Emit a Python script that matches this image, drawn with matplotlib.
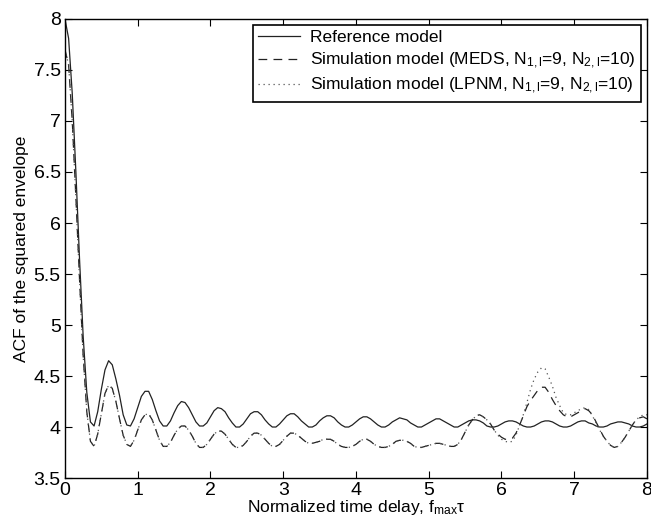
import numpy as np
import matplotlib
matplotlib.use('Agg')
import matplotlib.pyplot as plt

plt.rcParams['font.family'] = ['Liberation Sans', 'DejaVu Sans']
plt.rcParams['mathtext.fontset'] = 'custom'
plt.rcParams['mathtext.rm'] = 'Liberation Sans'
plt.rcParams['mathtext.it'] = 'Liberation Sans'
plt.rcParams['mathtext.default'] = 'regular'

# normalized time delay, step 0.05 from 0 to 8
tau = np.round(np.arange(0, 161) * 0.05, 2)

# reference model
ref_model = [
    8.00, 7.81, 7.27, 6.50, 5.65, 4.89, 4.34, 4.05, 4.01, 4.15,
    4.37, 4.56, 4.65, 4.61, 4.47, 4.31, 4.12, 4.02, 4.01, 4.08,
    4.19, 4.30, 4.35, 4.35, 4.27, 4.16, 4.06, 4.01, 4.01, 4.06,
    4.14, 4.21, 4.25, 4.24, 4.19, 4.12, 4.05, 4.01, 4.01, 4.04,
    4.10, 4.16, 4.19, 4.18, 4.15, 4.09, 4.04, 4.00, 4.00, 4.03,
    4.08, 4.13, 4.15, 4.15, 4.12, 4.07, 4.03, 4.00, 4.00, 4.03,
    4.07, 4.11, 4.13, 4.13, 4.10, 4.06, 4.03, 4.00, 4.00, 4.02,
    4.06, 4.09, 4.11, 4.11, 4.09, 4.05, 4.02, 4.00, 4.00, 4.02,
    4.05, 4.08, 4.10, 4.10, 4.08, 4.05, 4.02, 4.00, 4.00, 4.02,
    4.05, 4.07, 4.09, 4.08, 4.07, 4.04, 4.02, 4.00, 4.00, 4.02,
    4.04, 4.06, 4.08, 4.08, 4.06, 4.04, 4.02, 4.00, 4.00, 4.02,
    4.04, 4.06, 4.07, 4.07, 4.06, 4.04, 4.01, 4.00, 4.00, 4.01,
    4.03, 4.05, 4.06, 4.06, 4.05, 4.03, 4.01, 4.00, 4.00, 4.01,
    4.03, 4.05, 4.06, 4.06, 4.05, 4.03, 4.01, 4.00, 4.00, 4.01,
    4.03, 4.05, 4.06, 4.06, 4.04, 4.03, 4.01, 4.00, 4.00, 4.01,
    4.03, 4.04, 4.05, 4.05, 4.04, 4.03, 4.01, 4.00, 4.00, 4.01,
    4.03,
]

# simulation model, MEDS
meds = [
    7.70, 7.55, 7.00, 6.25, 5.45, 4.70, 4.15, 3.86, 3.81, 3.93,
    4.13, 4.33, 4.41, 4.38, 4.25, 4.08, 3.92, 3.83, 3.81, 3.87,
    3.97, 4.07, 4.12, 4.13, 4.07, 3.97, 3.87, 3.81, 3.81, 3.85,
    3.92, 3.98, 4.01, 4.01, 3.97, 3.91, 3.84, 3.80, 3.80, 3.83,
    3.88, 3.93, 3.96, 3.96, 3.93, 3.88, 3.83, 3.80, 3.80, 3.82,
    3.86, 3.91, 3.94, 3.94, 3.92, 3.88, 3.84, 3.81, 3.81, 3.83,
    3.87, 3.91, 3.94, 3.94, 3.92, 3.89, 3.86, 3.84, 3.84, 3.85,
    3.86, 3.88, 3.88, 3.88, 3.86, 3.83, 3.81, 3.80, 3.80, 3.81,
    3.83, 3.86, 3.88, 3.88, 3.86, 3.83, 3.81, 3.80, 3.80, 3.81,
    3.83, 3.86, 3.87, 3.87, 3.86, 3.84, 3.81, 3.80, 3.80, 3.81,
    3.82, 3.83, 3.84, 3.84, 3.83, 3.82, 3.81, 3.81, 3.83, 3.88,
    3.95, 4.02, 4.07, 4.11, 4.12, 4.10, 4.07, 4.03, 3.97, 3.93,
    3.90, 3.88, 3.88, 3.89, 3.94, 4.02, 4.11, 4.20, 4.26, 4.31,
    4.36, 4.39, 4.39, 4.34, 4.27, 4.21, 4.16, 4.12, 4.10, 4.10,
    4.12, 4.14, 4.16, 4.18, 4.16, 4.12, 4.05, 3.98, 3.91, 3.86,
    3.82, 3.80, 3.81, 3.85, 3.90, 3.96, 4.02, 4.07, 4.09, 4.10,
    4.08,
]

# simulation model, LPNM
lpnm = [
    7.70, 7.55, 7.00, 6.25, 5.45, 4.70, 4.15, 3.86, 3.81, 3.93,
    4.13, 4.33, 4.41, 4.38, 4.25, 4.08, 3.92, 3.83, 3.81, 3.87,
    3.97, 4.07, 4.12, 4.13, 4.07, 3.97, 3.87, 3.81, 3.81, 3.85,
    3.92, 3.98, 4.01, 4.01, 3.97, 3.91, 3.84, 3.80, 3.80, 3.83,
    3.88, 3.93, 3.96, 3.96, 3.93, 3.88, 3.83, 3.80, 3.80, 3.82,
    3.86, 3.91, 3.94, 3.94, 3.92, 3.88, 3.84, 3.81, 3.81, 3.83,
    3.87, 3.91, 3.94, 3.94, 3.92, 3.89, 3.86, 3.84, 3.84, 3.85,
    3.86, 3.88, 3.88, 3.88, 3.86, 3.83, 3.81, 3.80, 3.80, 3.81,
    3.83, 3.86, 3.88, 3.88, 3.86, 3.83, 3.81, 3.80, 3.80, 3.81,
    3.83, 3.86, 3.87, 3.87, 3.86, 3.84, 3.81, 3.80, 3.80, 3.81,
    3.82, 3.83, 3.84, 3.84, 3.83, 3.82, 3.81, 3.81, 3.83, 3.88,
    3.95, 4.02, 4.07, 4.11, 4.12, 4.10, 4.07, 4.03, 3.97, 3.92,
    3.88, 3.86, 3.85, 3.86, 3.92, 4.02, 4.12, 4.24, 4.37, 4.47,
    4.54, 4.58, 4.57, 4.49, 4.40, 4.29, 4.21, 4.14, 4.12, 4.12,
    4.14, 4.16, 4.18, 4.19, 4.17, 4.11, 4.04, 3.97, 3.91, 3.86,
    3.82, 3.80, 3.81, 3.85, 3.90, 3.96, 4.02, 4.07, 4.10, 4.12,
    4.12,
]

labels = [
    'Reference model',
    'Simulation model (MEDS, N$_{1,l}$=9, N$_{2,l}$=10)',
    'Simulation model (LPNM, N$_{1,l}$=9, N$_{2,l}$=10)',
]

fig = plt.figure(figsize=(6.51, 5.23), dpi=100)
ax = fig.add_axes([0.0998, 0.086, 0.894, 0.8777])

ax.plot(tau, ref_model, color='#222222', lw=0.9, ls='-', label=labels[0])
ax.plot(tau, meds, color='#222222', lw=0.9, ls=(0, (7, 5)), label=labels[1])
ax.plot(tau, lpnm, color='#555555', lw=0.9, ls=(0, (1, 3)), label=labels[2])

ax.set_xlim(0, 8)
ax.set_ylim(3.5, 8)
ax.set_xticks(range(0, 9))
ax.set_yticks([3.5, 4, 4.5, 5, 5.5, 6, 6.5, 7, 7.5, 8])
ax.set_yticklabels(['3.5', '4', '4.5', '5', '5.5', '6', '6.5', '7', '7.5', '8'])
ax.tick_params(direction='in', top=True, right=True, length=5, width=0.8, labelsize=14, pad=3)
for s in ax.spines.values():
    s.set_linewidth(1.0)

ax.set_xlabel('Normalized time delay, f$_{max}$τ', fontsize=12.5, labelpad=-1)
ax.set_ylabel('ACF of the squared envelope', fontsize=12.5, labelpad=3)

leg = ax.legend(loc='upper right', fontsize=12.5, fancybox=False, framealpha=1,
                edgecolor='black', borderaxespad=0.35, handlelength=2.4,
                borderpad=0.3, labelspacing=0.3, handletextpad=0.6)
leg.get_frame().set_linewidth(1.2)

fig.savefig('out.png', dpi=100)
